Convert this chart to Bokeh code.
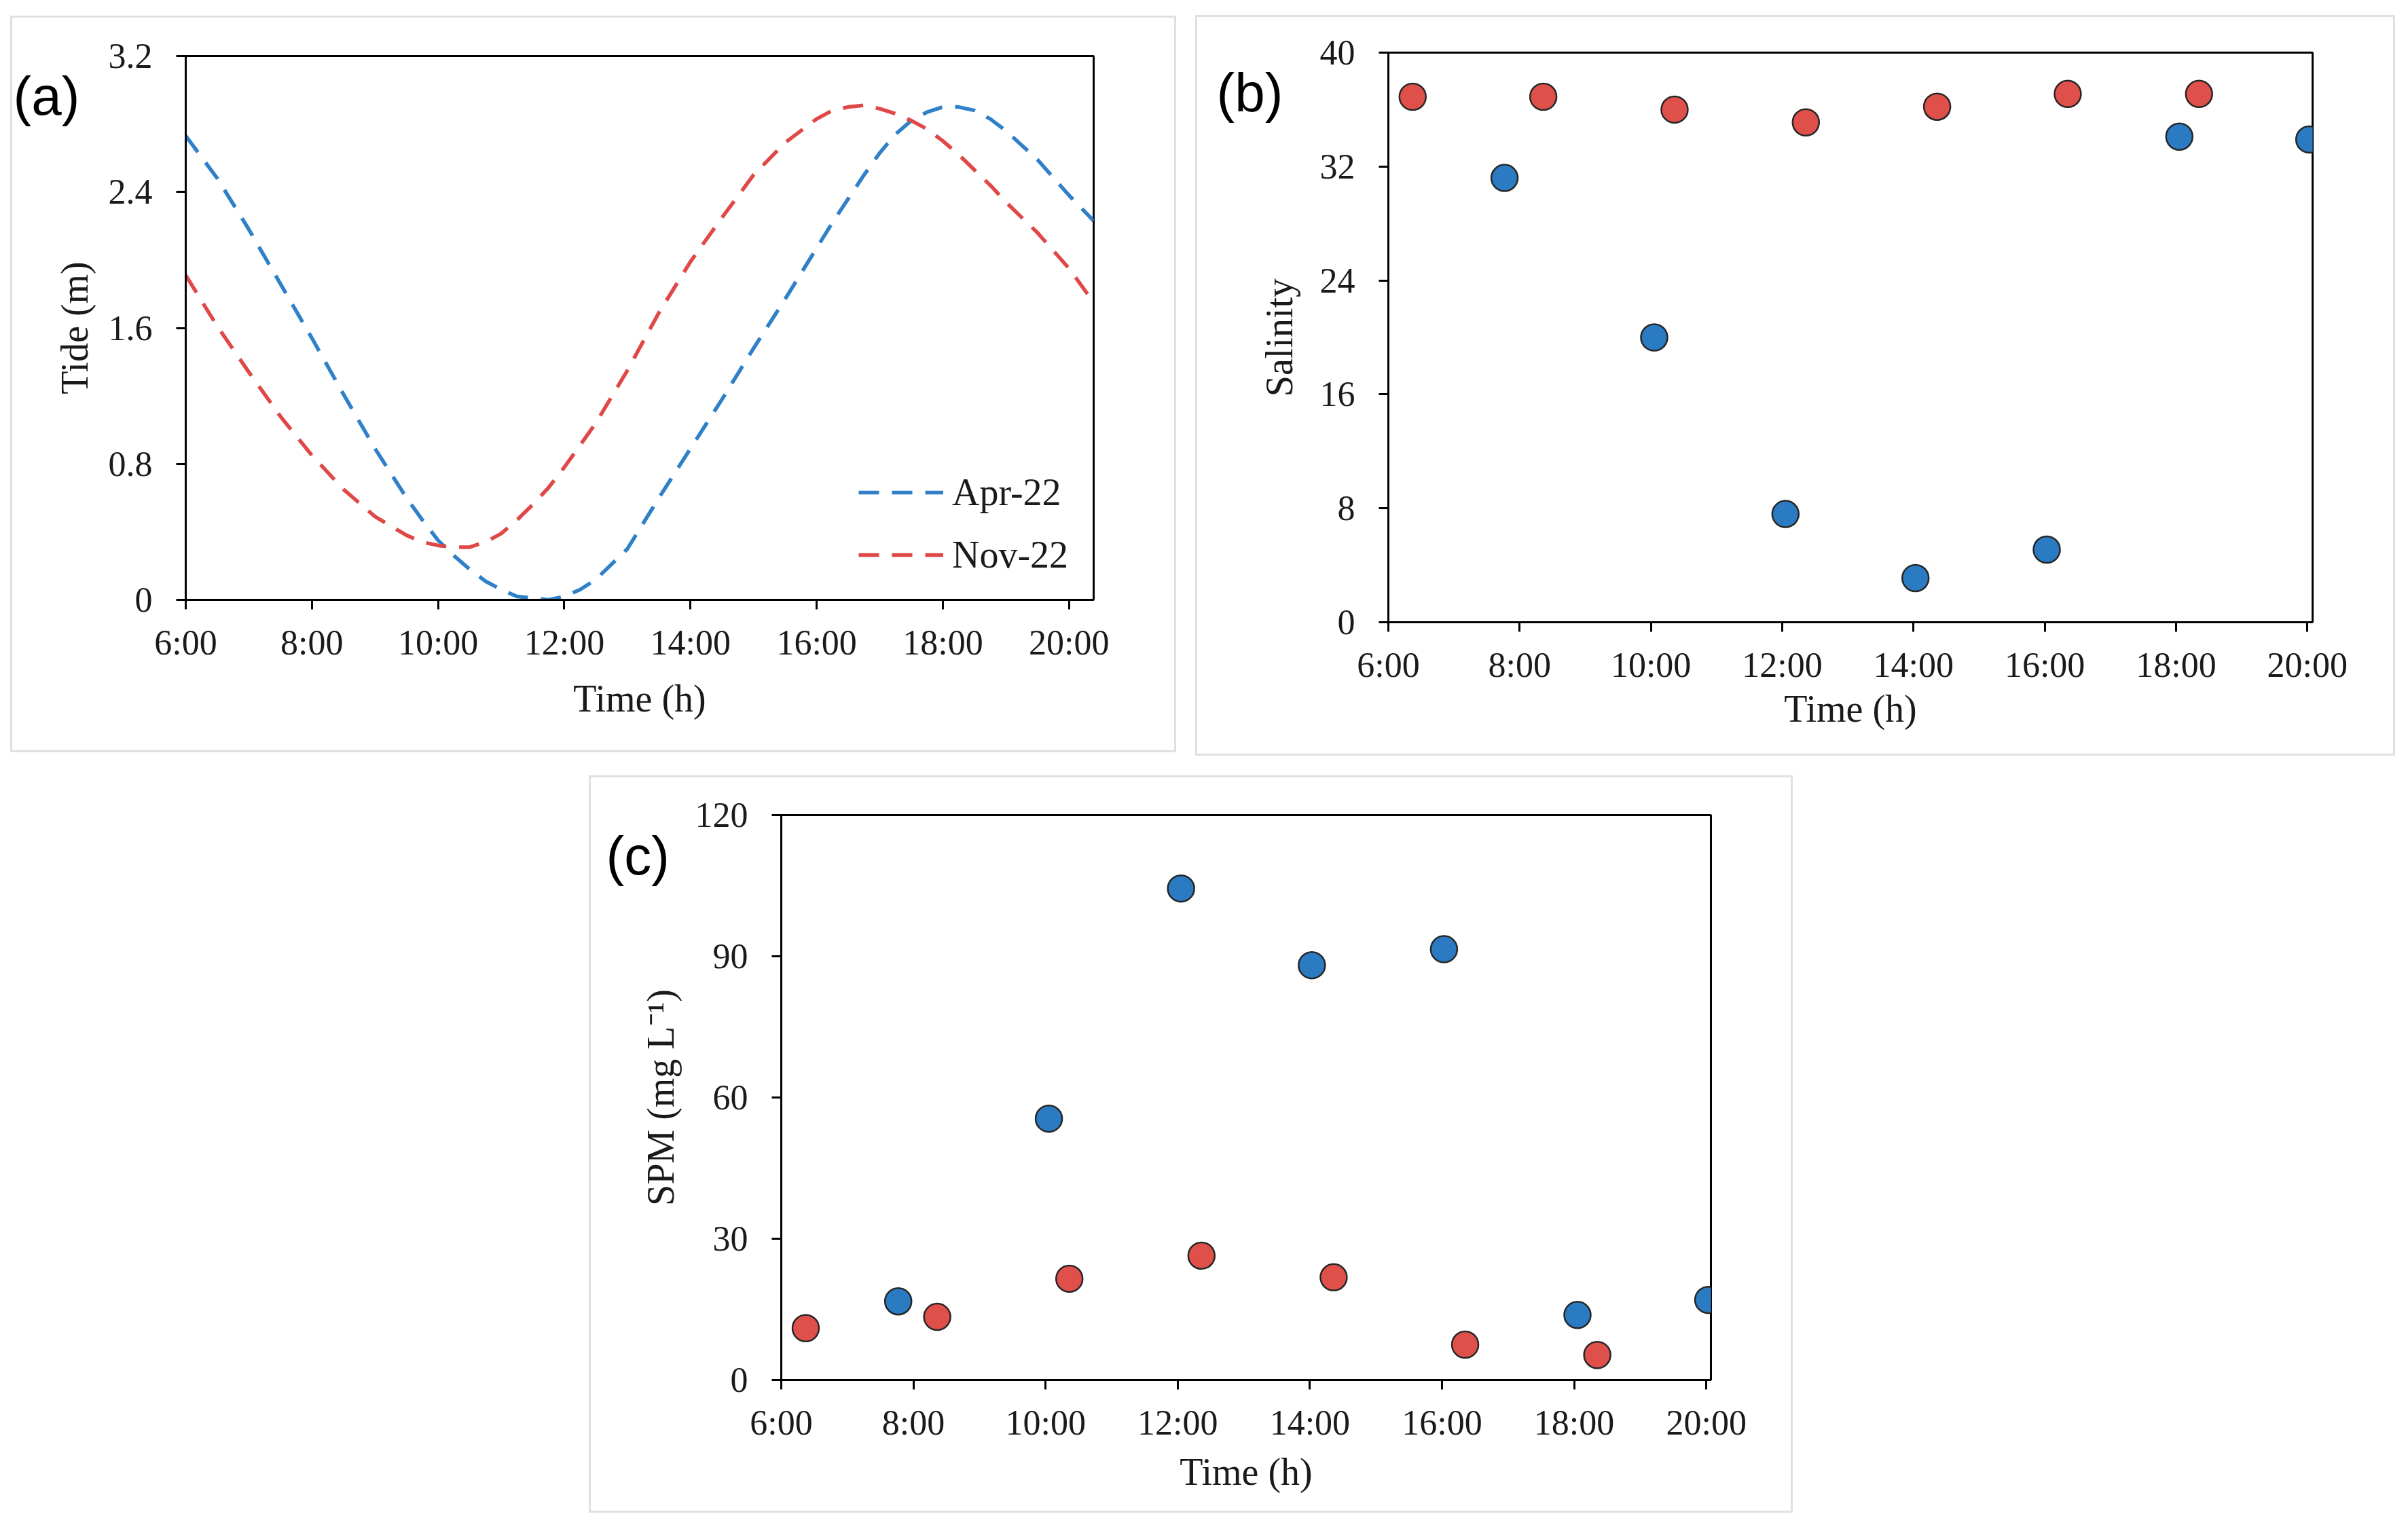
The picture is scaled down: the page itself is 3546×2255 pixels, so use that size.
from bokeh.plotting import figure
from bokeh.models import Range1d, FixedTicker, Legend, LegendItem, Label, Spacer
from bokeh.layouts import column, row
from bokeh.embed import file_html
from bokeh.resources import INLINE

# ---------------- data ----------------
time_ticks = [6, 8, 10, 12, 14, 16, 18, 20]
time_tick_labels = ["6:00", "8:00", "10:00", "12:00", "14:00", "16:00", "18:00", "20:00"]

# (a) tidal height (m)
tide_hours = [6.0, 6.5, 7.0, 7.5, 8.0, 8.5, 9.0, 9.5, 9.75, 10.0, 10.25, 10.5, 10.75, 11.0,
              11.25, 11.5, 11.75, 12.0, 12.25, 12.5, 13.0, 13.5, 14.0, 14.5, 15.0, 15.5,
              16.0, 16.25, 16.5, 16.75, 17.0, 17.25, 17.5, 17.75, 18.0, 18.25, 18.5,
              18.75, 19.0, 19.5, 20.0, 20.39]
tide_apr22 = [2.73, 2.48, 2.18, 1.86, 1.54, 1.21, 0.89, 0.60, 0.47, 0.35, 0.26, 0.18, 0.11, 0.06,
              0.02, 0.01, 0.00, 0.02, 0.06, 0.12, 0.30, 0.60, 0.89, 1.18, 1.48, 1.77,
              2.07, 2.22, 2.36, 2.50, 2.63, 2.74, 2.82, 2.87, 2.90, 2.90, 2.88,
              2.83, 2.76, 2.59, 2.38, 2.23]
tide_nov22 = [1.91, 1.61, 1.34, 1.08, 0.85, 0.65, 0.49, 0.38, 0.34, 0.32, 0.31, 0.31, 0.34, 0.39,
              0.47, 0.56, 0.66, 0.78, 0.91, 1.04, 1.35, 1.69, 1.99, 2.25, 2.50, 2.69,
              2.83, 2.88, 2.90, 2.91, 2.89, 2.86, 2.82, 2.77, 2.70, 2.62, 2.53,
              2.44, 2.34, 2.16, 1.95, 1.75]
tide_ticks = [0, 0.8, 1.6, 2.4, 3.2]
tide_tick_labels = ["0", "0.8", "1.6", "2.4", "3.2"]

# sampling times (decimal hours)
apr22_hours = [7.77, 10.05, 12.05, 14.03, 16.03, 18.05, 20.03]
nov22_hours = [6.37, 8.36, 10.36, 12.36, 14.36, 16.35, 18.35]

# (b) salinity
salinity_apr22 = [31.2, 20.0, 7.6, 3.1, 5.1, 34.1, 33.9]
salinity_nov22 = [36.9, 36.9, 36.0, 35.1, 36.2, 37.1, 37.1]
salinity_ticks = [0, 8, 16, 24, 32, 40]
salinity_tick_labels = ["0", "8", "16", "24", "32", "40"]

# (c) suspended particulate matter
spm_apr22 = [16.7, 55.5, 104.4, 88.1, 91.5, 13.8, 17.0]
spm_nov22 = [11.0, 13.4, 21.5, 26.4, 21.8, 7.5, 5.3]
spm_ticks = [0, 30, 60, 90, 120]
spm_tick_labels = ["0", "30", "60", "90", "120"]

# ---------------- styling ----------------
SERIF = "Liberation Serif"
SANS = "Liberation Sans"
TEXT = "#1a1a1a"
BLUE_LINE = "#2f80c8"
RED_LINE = "#e04848"
BLUE_DOT = "#2a7bc2"
RED_DOT = "#e0504b"
EDGE = "#262626"
PANEL_EDGE = "#e0e0e0"


def make_panel(left, frame_w, right, top, frame_h, bottom, x_end, y_end):
    p = figure(frame_width=frame_w, frame_height=frame_h,
               min_border_left=left, min_border_right=right,
               min_border_top=top, min_border_bottom=bottom,
               x_range=Range1d(6, x_end), y_range=Range1d(0, y_end),
               output_backend="svg", toolbar_location=None, tools="",
               styles={"outline": "3px solid " + PANEL_EDGE, "outline-offset": "0px"})
    p.background_fill_color = "white"
    p.border_fill_color = "white"
    p.outline_line_color = "black"
    p.outline_line_width = 3
    p.grid.visible = False
    for ax in (p.xaxis[0], p.yaxis[0]):
        ax.axis_line_color = "black"
        ax.axis_line_width = 3
        ax.major_tick_line_color = "black"
        ax.major_tick_line_width = 3
        ax.major_tick_out = 14
        ax.major_tick_in = 0
        ax.minor_tick_out = 0
        ax.minor_tick_in = 0
        ax.major_label_text_font = SERIF
        ax.major_label_text_font_size = "52px"
        ax.major_label_text_color = TEXT
        ax.axis_label_text_font = SERIF
        ax.axis_label_text_font_size = "56px"
        ax.axis_label_text_font_style = "normal"
        ax.axis_label_text_color = TEXT
    p.xaxis.major_label_standoff = 20
    p.yaxis.major_label_standoff = 35
    return p


def set_ticks(p, xt, xl, yt, yl, xtitle, ytitle, x_title_gap, y_title_gap):
    p.xaxis.ticker = FixedTicker(ticks=xt)
    p.xaxis.major_label_overrides = {t: l for t, l in zip(xt, xl)}
    p.yaxis.ticker = FixedTicker(ticks=yt)
    p.yaxis.major_label_overrides = {t: l for t, l in zip(yt, yl)}
    p.xaxis.axis_label = xtitle
    p.yaxis.axis_label = ytitle
    p.xaxis.axis_label_standoff = x_title_gap
    p.yaxis.axis_label_standoff = y_title_gap


def tag(p, text, xy):
    # panel letter in canvas pixels; held in the right side panel so it is not
    # clipped to the plot frame
    p.add_layout(Label(x=xy[0], y=xy[1], x_units="canvas", y_units="canvas",
                       text=text, text_font=SANS, text_font_size="80px",
                       text_color="black", text_align="left", text_baseline="middle"),
                 "right")


def dots(p, xs, ys, color):
    p.scatter(xs, ys, size=39, fill_color=color, line_color=EDGE, line_width=2.5)


# (a) tide
pa = make_panel(255, 1337, 119, 56, 801, 222, 20.39, 3.2)
set_ticks(pa, time_ticks, time_tick_labels, tide_ticks, tide_tick_labels,
          "Time (h)", "Tide (m)", 20, 16)
r_apr = pa.line(tide_hours, tide_apr22, line_color=BLUE_LINE, line_width=5.5, line_dash="30 19")
r_nov = pa.line(tide_hours, tide_nov22, line_color=RED_LINE, line_width=5.5, line_dash="30 19")
legend = Legend(items=[LegendItem(label="Apr-22", renderers=[r_apr]),
                       LegendItem(label="Nov-22", renderers=[r_nov])],
                location=(991, 34), glyph_width=125, glyph_height=60, label_height=60,
                spacing=28, padding=0, margin=0, label_standoff=13,
                label_text_font=SERIF, label_text_font_size="56px", label_text_color=TEXT,
                border_line_alpha=0, background_fill_alpha=0)
pa.add_layout(legend)
tag(pa, "(a)", (1, 115))

# (b) salinity
pb = make_panel(281, 1361, 119, 52, 839, 194, 20.08, 40)
set_ticks(pb, time_ticks, time_tick_labels, salinity_ticks, salinity_tick_labels,
          "Time (h)", "Salinity", 2, 26)
dots(pb, apr22_hours, salinity_apr22, BLUE_DOT)
dots(pb, nov22_hours, salinity_nov22, RED_DOT)
tag(pb, "(b)", (28, 111))

# (c) SPM
pc = make_panel(280, 1369, 118, 55, 832, 193, 20.07, 120)
set_ticks(pc, time_ticks, time_tick_labels, spm_ticks, spm_tick_labels,
          "Time (h)", "SPM (mg L\u207b\u00b9)", 10, 17)
dots(pc, apr22_hours, spm_apr22, BLUE_DOT)
dots(pc, nov22_hours, spm_nov22, RED_DOT)
tag(pc, "(c)", (22, 115))

# page arrangement: each panel sits in its own light frame
col_a = column(Spacer(width=1, height=26), pa, Spacer(width=1, height=3))
col_b = column(Spacer(width=1, height=25), pb, Spacer(width=1, height=3))
col_c = column(Spacer(width=1, height=32), pc, Spacer(width=1, height=3))
top_row = row(Spacer(width=18, height=1), col_a, Spacer(width=34, height=1),
              col_b, Spacer(width=22, height=1))
bottom_row = row(Spacer(width=870, height=1), col_c, Spacer(width=909, height=1))
page = column(top_row, bottom_row)
open("out.html", "w").write(file_html(page, INLINE))
